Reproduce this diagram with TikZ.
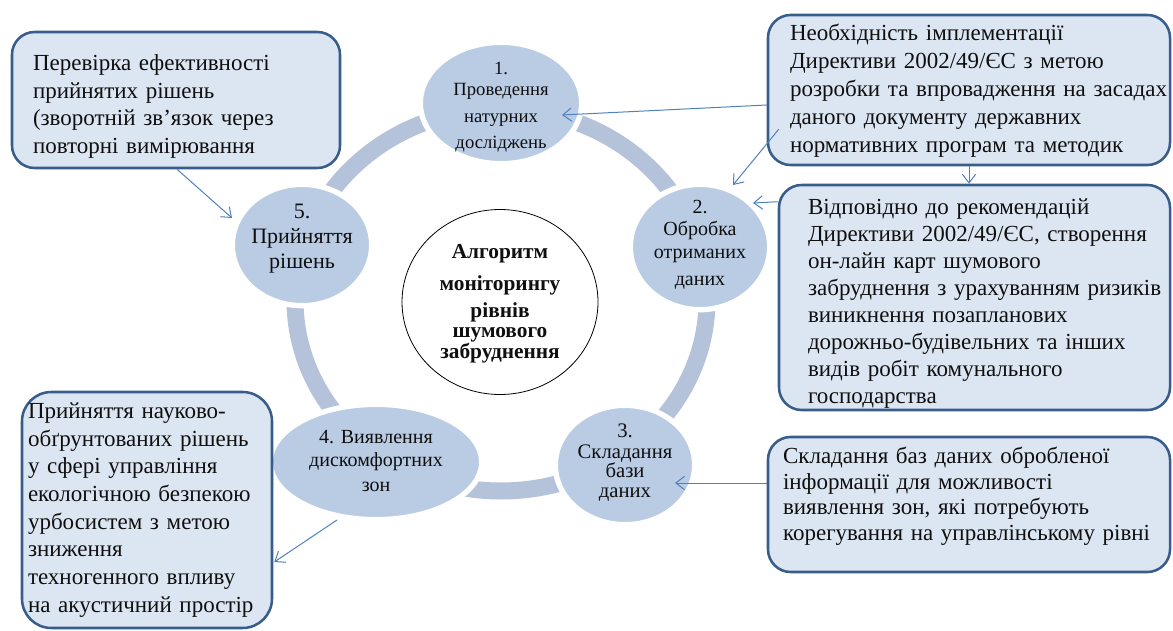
\documentclass[tikz,border=0pt]{standalone}
\usepackage{fontspec}
\setmainfont{Liberation Serif}
\usetikzlibrary{arrows.meta,shapes.geometric,calc}
\definecolor{boxfill}{RGB}{220,230,242}
\definecolor{boxdraw}{RGB}{56,93,138}
\definecolor{circfill}{RGB}{185,204,228}
\definecolor{ringcol}{RGB}{180,194,218}
\definecolor{arrowcol}{RGB}{79,129,189}
\definecolor{txt}{RGB}{15,15,15}
\newcommand\bl[1]{\mbox{#1}}
\newcommand\tophold[1]{\rule{0pt}{#1}}
\newcommand\bothold[1]{\rule[-#1]{0pt}{#1}}
% centred stack of lines: #1 = raise of the first baseline above the node centre
\newcommand\stk[2]{\smash{\makebox[0pt]{\raisebox{#1}{\parbox[t]{220pt}{\centering
  \baselineskip=0pt\lineskip=0pt\lineskiplimit=-\maxdimen #2}}}}}
\tikzset{
  box/.style={draw=boxdraw, fill=boxfill, line width=1.9pt, rounded corners=17pt,
    inner xsep=0pt, inner ysep=0pt, align=left, text=txt},
  stage/.style={ellipse, fill=circfill, draw=white, line width=4pt, inner sep=0pt, text=txt},
  core/.style={ellipse, draw=black, line width=0.6pt, fill=white, inner sep=0pt,
    text=txt, font=\bfseries\fontsize{16pt}{16pt}\selectfont},
  link/.style={draw=arrowcol, line width=0.75pt, -{Straight Barb[length=6.5pt,width=10pt]}}
}
\begin{document}
\begin{tikzpicture}[x=0.75pt,y=-0.75pt]
\useasboundingbox (0,0) rectangle (1173,631);
% ring
\draw[ringcol, line width=12.75pt] (501,300) ellipse [x radius=154.5pt, y radius=143.25pt];
% stages
\node[stage, minimum width=121pt, minimum height=91pt, font=\fontsize{14pt}{16pt}\selectfont] (c1) at (501,103)
  {\stk{21pt}{1.\\[15.75pt]Проведення\\[20.25pt]натурних\\[19.5pt]досліджень}};
\node[stage, minimum width=104.5pt, minimum height=94pt, font=\fontsize{15pt}{16pt}\selectfont] (c2) at (700,247)
  {\stk{25.5pt}{2.\\[16.75pt]Обробка\\[17.25pt]отриманих\\[20.25pt]даних}};
\node[stage, minimum width=104.5pt, minimum height=89.5pt, font=\fontsize{15.5pt}{16pt}\selectfont] (c3) at (625,465)
  {\stk{21pt}{3.\\[15.75pt]Складання\\[14.25pt]бази\\[15pt]даних}};
\node[stage, minimum width=158.5pt, minimum height=86.5pt, font=\fontsize{15pt}{16pt}\selectfont] (c4) at (376,462)
  {\stk{14.25pt}{4. Виявлення\\[17.25pt]дискомфортних\\[18.75pt]зон}};
\node[stage, minimum width=104.5pt, minimum height=91pt, font=\fontsize{16.5pt}{18pt}\selectfont] (c5) at (302,245)
  {\stk{20.25pt}{5.\\[18.75pt]Прийняття\\[18.75pt]рішень}};
\node[core, minimum width=147pt, minimum height=138.75pt] (core) at (500,302)
  {\stk{33pt}{Алгоритм\\[24pt]моніторингу\\[20.25pt]рівнів\\[15pt]шумового\\[15.75pt]забруднення}};
% boxes
\node[box, minimum width=246pt, minimum height=102pt, text width=214.5pt,
  font=\fontsize{17.25pt}{20.75pt}\selectfont] (A) at (176,100)
  {\tophold{21.6pt}\bl{Перевірка ефективності}\\\bl{прийнятих рішень}\\\bl{(зворотній зв’язок через}\\\bl{повторні вимірювання}};
\node[box, minimum width=301.5pt, minimum height=112.5pt, text width=268.5pt,
  font=\fontsize{17.25pt}{21pt}\selectfont] (B) at (969,90)
  {\tophold{15pt}\bl{Необхідність імплементації}\\\bl{Директиви 2002/49/ЄС з метою}\\\bl{розробки та впровадження на засадах}\\\bl{даного документу державних}\\\bl{нормативних програм та методик}\bothold{5pt}};
\node[box, minimum width=293.25pt, minimum height=168.75pt, text width=249.75pt,
  font=\fontsize{17.25pt}{20.25pt}\selectfont] (C) at (974.5,297.5)
  {\tophold{21.2pt}\bl{Відповідно до рекомендацій}\\\bl{Директиви 2002/49/ЄС, створення}\\\bl{он-лайн карт шумового}\\\bl{забруднення з урахуванням ризиків}\\\bl{виникнення позапланових}\\\bl{дорожньо-будівельних та інших}\\\bl{видів робіт комунального}\\\bl{господарства}};
\node[box, minimum width=301.5pt, minimum height=101.25pt, text width=279pt,
  font=\fontsize{17.25pt}{19.3pt}\selectfont] (D) at (969,504.5)
  {\bl{Складання баз даних обробленої}\\\bl{інформації для можливості}\\\bl{виявлення зон, які потребують}\\\bl{корегування на управлінському рівні}\bothold{16pt}};
\node[box, rounded corners=22pt, minimum width=187.5pt, minimum height=177pt, text width=178.5pt,
  font=\fontsize{17.25pt}{20.8pt}\selectfont] (E) at (147,510)
  {\bl{Прийняття науково-}\\\bl{обґрунтованих рішень}\\\bl{у сфері управління}\\\bl{екологічною безпекою}\\\bl{урбосистем з метою}\\\bl{зниження}\\\bl{техногенного впливу}\\\bl{на акустичний простір}};
% connectors
\draw[link] ($(B.west)+(0,15)$) -- ($(c1.center)+(61,12)$);
\draw[link] ($(B.south west)+(12,-37)$) -- ($(c2.center)+(33,-62)$);
\draw[link] (B.south) -- (B.south |- C.north);
\draw[link] ($(C.north west)+(0,18)$) -- ($(c2.center)+(53,-44)$);
\draw[link] ($(D.west)+(0,-21.5)$) -- ($(c3.center)+(50,18)$);
\draw[link] ($(A.south)+(1,0)$) -- ($(c5.center)+(-70,-27)$);
\draw[link] ($(c4.center)+(-39,58)$) -- ($(E.east)+(1,52)$);
\end{tikzpicture}
\end{document}
